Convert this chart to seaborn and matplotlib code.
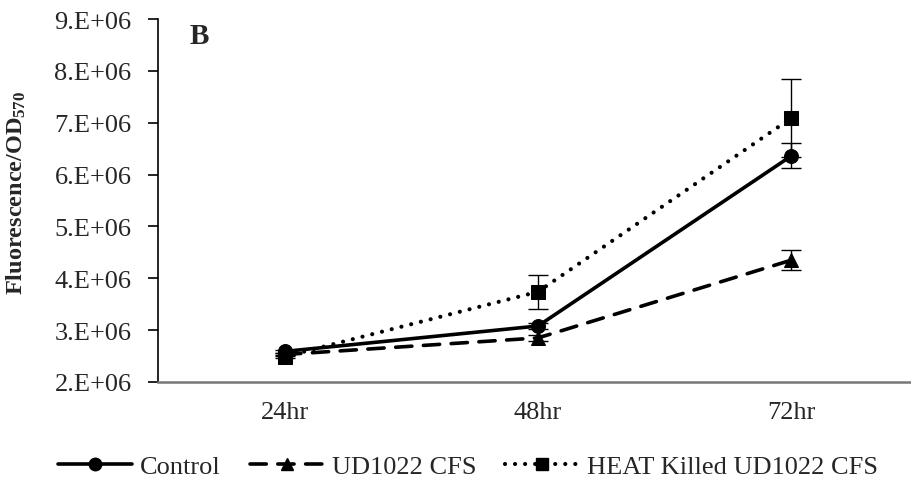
import matplotlib
matplotlib.use("Agg")
import matplotlib.pyplot as plt
from matplotlib.lines import Line2D
import seaborn as sns
import pandas as pd

# ---- data ----
categories = ["24hr", "48hr", "72hr"]
control = [2.59e6, 3.08e6, 6.36e6]
control_err = [0.03e6, 0.05e6, 0.24e6]
ud1022 = [2.53e6, 2.85e6, 4.35e6]
ud1022_err = [0.03e6, 0.05e6, 0.19e6]
heat = [2.49e6, 3.74e6, 7.09e6]
heat_err = [0.03e6, 0.33e6, 0.75e6]
series_names = ["Control", "UD1022 CFS", "HEAT Killed UD1022 CFS"]
y_ticks = [2e6, 3e6, 4e6, 5e6, 6e6, 7e6, 8e6, 9e6]
y_tick_labels = ["2.E+06", "3.E+06", "4.E+06", "5.E+06", "6.E+06", "7.E+06", "8.E+06", "9.E+06"]

sns.set_theme(style="white")
plt.rcParams["font.family"] = ["Liberation Serif", "DejaVu Serif"]
plt.rcParams["mathtext.fontset"] = "custom"
plt.rcParams["mathtext.rm"] = "Liberation Serif:bold"
plt.rcParams["mathtext.it"] = "Liberation Serif:bold"
plt.rcParams["mathtext.bf"] = "Liberation Serif:bold"

W, H = 912, 485
fig = plt.figure(figsize=(W / 100, H / 100), dpi=100)
ax = fig.add_axes([158 / W, (H - 383) / H, 760 / W, 363 / H])

x = list(range(len(categories)))
df = pd.DataFrame({
    "x": x * 3,
    "value": control + ud1022 + heat,
    "err": control_err + ud1022_err + heat_err,
    "series": [series_names[0]] * 3 + [series_names[1]] * 3 + [series_names[2]] * 3,
})

styles = {
    series_names[0]: dict(marker="o", dashes=None, lw=2.6),
    series_names[1]: dict(marker="^", dashes=(4.5, 3.2), lw=2.6),
    series_names[2]: dict(marker="s", dashes=(0.01, 2.4), lw=3.0),
}

handles = []
for name in series_names:
    sub = df[df["series"] == name]
    st = styles[name]
    ax.errorbar(sub["x"], sub["value"], yerr=sub["err"], fmt="none",
                ecolor="black", elinewidth=1.0, capsize=7, capthick=1.0, zorder=2)
    sns.lineplot(data=sub, x="x", y="value", ax=ax, color="black",
                 marker=st["marker"], markersize=10, markeredgecolor="black",
                 markerfacecolor="black", linewidth=st["lw"], zorder=3,
                 legend=False, errorbar=None)
    line = ax.lines[-1]
    if st["dashes"] is not None:
        line.set_dashes(st["dashes"])
        line.set_dash_capstyle("round")
    h = Line2D([], [], color="black", lw=st["lw"], marker=st["marker"], markersize=9)
    if st["dashes"] is not None:
        h.set_dashes(st["dashes"])
        h.set_dash_capstyle("round")
    handles.append(h)

ax.set_xlim(-0.5, 2.5)
ax.set_ylim(2e6, 9e6)
ax.set_yticks(y_ticks)
ax.set_yticklabels(y_tick_labels)
ax.set_xticks(x)
ax.set_xticklabels(categories)
ax.set_xticks([-0.5, 0.5, 1.5, 2.5], minor=True)
ax.tick_params(axis="x", which="major", length=0, pad=14, labelsize=19)
ax.tick_params(axis="x", which="minor", length=7, width=1.2, color="#777777", direction="out")
ax.tick_params(axis="y", which="major", length=7, width=1.2, color="black",
               direction="out", pad=12, labelsize=19, left=True)
ax.set_xlabel("")
ax.set_ylabel(r"Fluorescence/OD$_{570}$", fontsize=17.5, fontweight="bold")
ax.yaxis.set_label_coords(-(158 - 28) / 760, (383 - 193) / 363)

for s in ["top", "right"]:
    ax.spines[s].set_visible(False)
ax.spines["bottom"].set_color("#777777")
ax.spines["bottom"].set_linewidth(1.8)
ax.spines["left"].set_color("black")
ax.spines["left"].set_linewidth(1.2)

fig.text(199 / W, (H - 37) / H, "B", fontsize=21, fontweight="bold", ha="center", va="center")

fig.legend(handles, series_names, loc="center", ncol=3,
           bbox_to_anchor=(468 / W, (H - 467) / H), frameon=False,
           fontsize=19, handlelength=2.8, handletextpad=0.3, columnspacing=1.1,
           numpoints=1)

fig.savefig("out.png", dpi=100)
